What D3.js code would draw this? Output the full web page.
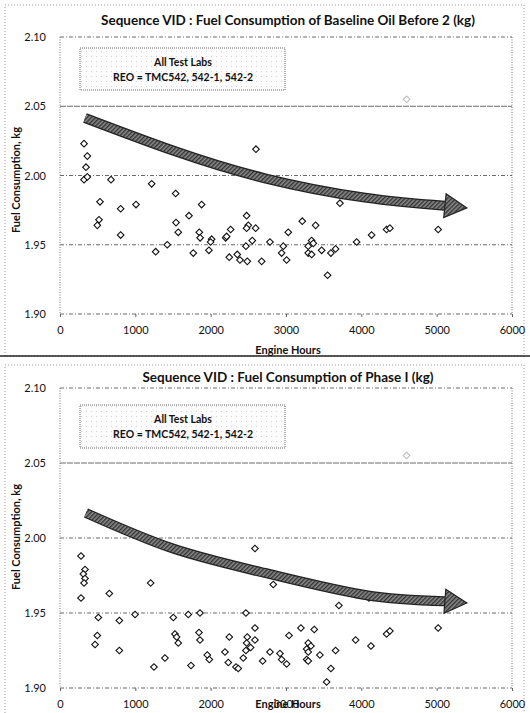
<!DOCTYPE html>
<html>
<head>
<meta charset="utf-8">
<script src="https://cdn.jsdelivr.net/npm/d3@7"></script>
<style>
  body { margin: 0; background: #fff; }
  svg text { font-family: Lato, "Open Sans", sans-serif; fill: #111; }
</style>
</head>
<body>
<div class="container"></div>
<script>
// ---- data ----
var titles = [
  'Sequence VID  :  Fuel Consumption of Baseline Oil Before 2 (kg)',
  'Sequence VID  :  Fuel Consumption of Phase I (kg)'
];
var legendLines = ['All Test Labs', 'REO = TMC542, 542-1, 542-2'];
var xTicks = [0, 1000, 2000, 3000, 4000, 5000, 6000];
var yTicks = [1.90, 1.95, 2.00, 2.05, 2.10];

// Baseline oil before 2: [engine hours, kg]
var baselineHours = [319, 363, 345, 319, 363, 677, 531, 518, 495, 805, 1009, 1217, 1535, 805, 1712, 1540,
  1570, 1880, 1849, 1860, 2013, 2265, 2199, 2477, 2499, 2477, 2597, 2601, 1270, 1424, 1769, 1977,
  1999, 2212, 2468, 2552, 2247, 2353, 2389, 2486, 2677, 2787, 3030, 2942, 3008, 2964, 3340, 3295,
  3362, 3295, 3340, 3473, 3596, 3658, 3552, 3937, 4136, 4335, 4379, 5020, 3716, 3216, 3393];
var baselineKg = [2.023, 2.014, 2.006, 1.997, 1.999, 1.997, 1.981, 1.968, 1.964, 1.976, 1.979, 1.994, 1.987, 1.957, 1.971, 1.966,
  1.959, 1.979, 1.959, 1.955, 1.954, 1.961, 1.955, 1.971, 1.964, 1.962, 1.962, 2.019, 1.945, 1.950, 1.944, 1.946,
  1.952, 1.956, 1.949, 1.953, 1.941, 1.943, 1.939, 1.938, 1.938, 1.952, 1.959, 1.944, 1.939, 1.949, 1.953, 1.949,
  1.951, 1.944, 1.943, 1.946, 1.944, 1.947, 1.928, 1.952, 1.957, 1.961, 1.962, 1.961, 1.980, 1.967, 1.964];

// Phase I: [engine hours, kg]
var phaseHours = [279, 332, 310, 332, 319, 1203, 2588, 279, 655, 509, 495, 465, 788, 788, 996, 1247,
  1393, 1504, 1526, 1548, 1570, 1703, 1739, 1858, 1845, 1858, 1955, 1982, 2190, 2247, 2234, 2336,
  2366, 2433, 2468, 2477, 2486, 2468, 2530, 2588, 2588, 2690, 2831, 3702, 4101, 5020, 3198, 3375,
  3040, 2787, 2920, 2942, 3008, 3295, 3331, 3274, 3295, 3274, 3295, 3450, 3658, 3596, 3539, 3924,
  4128, 4335, 4379];
var phaseKg = [1.988, 1.979, 1.976, 1.973, 1.970, 1.970, 1.993, 1.960, 1.963, 1.947, 1.935, 1.929, 1.945, 1.925, 1.949, 1.914,
  1.920, 1.947, 1.936, 1.934, 1.930, 1.949, 1.915, 1.950, 1.937, 1.932, 1.922, 1.919, 1.924, 1.934, 1.917, 1.914,
  1.913, 1.920, 1.925, 1.930, 1.934, 1.950, 1.927, 1.940, 1.932, 1.918, 1.969, 1.955, 1.960, 1.940, 1.940, 1.939,
  1.935, 1.924, 1.923, 1.919, 1.916, 1.930, 1.928, 1.926, 1.924, 1.919, 1.918, 1.922, 1.925, 1.913, 1.904, 1.932,
  1.928, 1.936, 1.938];

// faint point near 2.055 that shows through on both scans
var ghostHours = [4600];
var ghostKg = [2.055];

// trend arrows drawn on top (hours, kg)
var baselineArrow = [[332, 2.0415], [1500, 2.018], [2720, 1.998], [4050, 1.984], [5400, 1.9766]];
var phaseArrow = [[345, 2.0167], [1500, 1.993], [2720, 1.9767], [4050, 1.962], [5400, 1.9567]];

// ---- layout ----
var W = 530, H = 713;
var panels = [
  { title: titles[0], hours: baselineHours, kg: baselineKg, arrow: baselineArrow,
    frameTop: 5, frameBottom: 356, top: 37, bottom: 314, titleY: 20, legendY: 48, legendH: 42,
    tickY: 334, xTitleY: 350, yTitleY: 180 },
  { title: titles[1], hours: phaseHours, kg: phaseKg, arrow: phaseArrow,
    frameTop: 365, frameBottom: 740, top: 388, bottom: 688, titleY: 377, legendY: 405, legendH: 43,
    tickY: 708, xTitleY: 704, yTitleY: 537 }
];
var left = 60, right = 512;

var svg = d3.select('.container').append('svg')
    .attr('width', W)
    .attr('height', H);

var defs = svg.append('defs');
var pat = defs.append('pattern')
    .attr('id', 'hatch')
    .attr('patternUnits', 'userSpaceOnUse')
    .attr('width', 3).attr('height', 3)
    .attr('patternTransform', 'rotate(45)');
pat.append('rect').attr('width', 3).attr('height', 3).attr('fill', '#8a8a8a');
pat.append('rect').attr('width', 1.4).attr('height', 3).attr('fill', '#333');

var dotPat = defs.append('pattern')
    .attr('id', 'speckle')
    .attr('patternUnits', 'userSpaceOnUse')
    .attr('width', 5).attr('height', 5);
dotPat.append('rect').attr('width', 5).attr('height', 5).attr('fill', '#fcfcfc');
dotPat.append('rect').attr('x', 1).attr('y', 1).attr('width', 1).attr('height', 1).attr('fill', '#d4d4d4');

panels.forEach(function (p) {
  var x = d3.scaleLinear().domain([0, 6000]).range([left, right]);
  var y = d3.scaleLinear().domain([1.90, 2.10]).range([p.bottom, p.top]);
  var g = svg.append('g');

  // chart frame
  g.append('rect')
      .attr('x', 5).attr('y', p.frameTop)
      .attr('width', 519).attr('height', p.frameBottom - p.frameTop)
      .attr('fill', 'none')
      .attr('stroke', '#999')
      .attr('stroke-dasharray', '1,2');
  if (p.frameBottom < H) {
    g.append('line')
        .attr('x1', 0).attr('x2', W)
        .attr('y1', p.frameBottom).attr('y2', p.frameBottom)
        .attr('stroke', '#222').attr('stroke-width', 1.5);
  }

  // gridlines
  g.append('g').selectAll('line')
    .data(yTicks)
    .enter().append('line')
      .attr('x1', left).attr('x2', right)
      .attr('y1', function (d) { return y(d); })
      .attr('y2', function (d) { return y(d); })
      .attr('stroke', '#444')
      .attr('stroke-width', 0.8)
      .attr('stroke-dasharray', function (d) { return d === 2.05 ? '6,1' : '4,2,1,2'; });

  // side borders of the plot area
  [left, right].forEach(function (xx) {
    g.append('line')
        .attr('x1', xx).attr('x2', xx)
        .attr('y1', p.top).attr('y2', p.bottom)
        .attr('stroke', '#777')
        .attr('stroke-dasharray', '1,1.5');
  });

  // axes (labels only, Excel style)
  var xAxis = d3.axisBottom(x).tickValues(xTicks).tickSize(3).tickFormat(d3.format('d'));
  var xg = g.append('g').attr('transform', 'translate(0,' + p.bottom + ')').call(xAxis);
  xg.select('.domain').remove();
  xg.selectAll('.tick line').attr('stroke', '#666');
  xg.selectAll('.tick text')
      .attr('y', p.tickY - p.bottom - 4)
      .attr('dy', '0.35em')
      .style('font-size', '11px')
      .attr('fill', '#222');

  var yAxis = d3.axisLeft(y).tickValues(yTicks).tickSize(0).tickFormat(d3.format('.2f'));
  var yg = g.append('g').attr('transform', 'translate(' + left + ',0)').call(yAxis);
  yg.select('.domain').remove();
  yg.selectAll('.tick text')
      .attr('x', -14)
      .style('font-size', '11px')
      .attr('fill', '#222');

  // titles
  g.append('text')
      .attr('x', 288).attr('y', p.titleY)
      .attr('text-anchor', 'middle')
      .attr('dy', '0.35em')
      .style('font-size', '13.5px')
      .style('font-weight', 'bold')
      .text(p.title);

  g.append('text')
      .attr('x', 288).attr('y', p.xTitleY)
      .attr('text-anchor', 'middle')
      .attr('dy', '0.35em')
      .style('font-size', '11px')
      .style('font-weight', 'bold')
      .text('Engine Hours');

  g.append('text')
      .attr('transform', 'translate(16,' + p.yTitleY + ') rotate(-90)')
      .attr('text-anchor', 'middle')
      .attr('dy', '0.35em')
      .style('font-size', '11px')
      .style('font-weight', 'bold')
      .text('Fuel Consumption, kg');

  // legend box
  var lg = g.append('g');
  lg.append('rect')
      .attr('x', 80).attr('y', p.legendY)
      .attr('width', 205).attr('height', p.legendH)
      .attr('fill', 'url(#speckle)')
      .attr('stroke', '#666')
      .attr('stroke-dasharray', '1,1');
  legendLines.forEach(function (t, i) {
    lg.append('text')
        .attr('x', 183).attr('y', p.legendY + 14 + i * 15)
        .attr('text-anchor', 'middle')
        .attr('dy', '0.35em')
        .style('font-size', '10.5px')
        .style('font-weight', 'bold')
        .text(t);
  });

  // data points
  var sym = d3.symbol().type(d3.symbolSquare).size(22);
  g.append('g').selectAll('path')
    .data(d3.range(p.hours.length))
    .enter().append('path')
      .attr('d', sym)
      .attr('transform', function (i) {
        return 'translate(' + x(p.hours[i]) + ',' + y(p.kg[i]) + ') rotate(45)';
      })
      .attr('fill', '#fff')
      .attr('stroke', '#111')
      .attr('stroke-width', 1.1);

  g.append('g').selectAll('path')
    .data(d3.range(ghostHours.length))
    .enter().append('path')
      .attr('d', sym)
      .attr('transform', function (i) {
        return 'translate(' + x(ghostHours[i]) + ',' + y(ghostKg[i]) + ') rotate(45)';
      })
      .attr('fill', 'none')
      .attr('stroke', '#bbb');

  // trend arrow
  var pts = p.arrow.map(function (d) { return [x(d[0]), y(d[1])]; });
  var n = pts.length;
  var tip = pts[n - 1], prev = pts[n - 2];
  var ang = Math.atan2(tip[1] - prev[1], tip[0] - prev[0]);
  var headLen = 22, headHalf = 12;
  var base = [tip[0] - headLen * Math.cos(ang), tip[1] - headLen * Math.sin(ang)];
  var shaftPts = pts.slice(0, n - 1).concat([base]);
  var line = d3.line().curve(d3.curveNatural);

  g.append('path')
      .attr('d', line(shaftPts))
      .attr('fill', 'none')
      .attr('stroke', '#222')
      .attr('stroke-width', 10);
  g.append('path')
      .attr('d', line(shaftPts))
      .attr('fill', 'none')
      .attr('stroke', 'url(#hatch)')
      .attr('stroke-width', 7.5);

  var nx = -Math.sin(ang), ny = Math.cos(ang);
  var head = [
    tip,
    [base[0] + nx * headHalf, base[1] + ny * headHalf],
    [base[0] - nx * headHalf, base[1] - ny * headHalf]
  ];
  g.append('path')
      .attr('d', 'M' + head[0] + 'L' + head[1] + 'L' + head[2] + 'Z')
      .attr('fill', 'url(#hatch)')
      .attr('stroke', '#222')
      .attr('stroke-width', 1.2);
});
</script>
</body>
</html>
